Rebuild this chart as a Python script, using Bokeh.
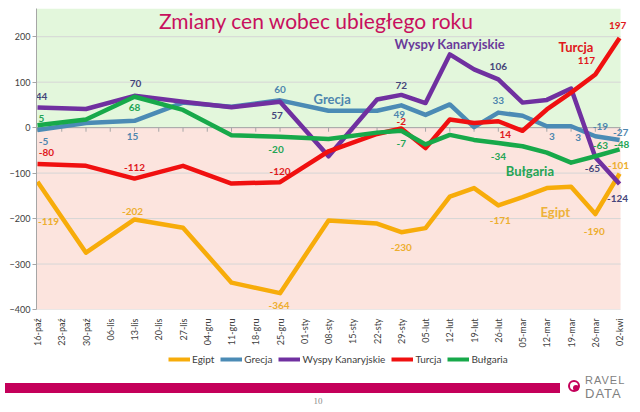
import math
from bokeh.plotting import figure
from bokeh.models import Range1d, FixedTicker, BoxAnnotation, Legend, LegendItem, ColumnDataSource, Div
from bokeh.layouts import column
from bokeh.core.properties import value
from bokeh.embed import file_html
from bokeh.resources import INLINE

# ---------------- data ----------------
categories = ["16-paź", "23-paź", "30-paź", "06-lis", "13-lis", "20-lis", "27-lis", "04-gru",
              "11-gru", "18-gru", "25-gru", "01-sty", "08-sty", "15-sty", "22-sty", "29-sty",
              "05-lut", "12-lut", "19-lut", "26-lut", "05-mar", "12-mar", "19-mar", "26-mar", "02-kwi"]
egipt = [-119, None, -275, None, -202, None, -220, None, -341, None, -364, None, -204, None,
         -211, -230, -221, -152, -133, -171, -153, -133, -130, -190, -101]
grecja = [-5, None, 10, None, 15, None, 55, None, 46, None, 60, None, 37, None,
          37, 49, 28, 51, 1, 33, 26, 3, 3, -19, -27]
wyspy = [44, None, 41, None, 70, None, 57, None, 45, None, 57, None, -63, None,
         62, 72, 54, 161, 128, 106, 55, 61, 86, -65, -124]
turcja = [-80, None, -84, None, -112, None, -84, None, -123, None, -120, None, -52, None,
          -14, -2, -45, 18, 10, 14, -7, 40, 77, 117, 197]
bulgaria = [5, None, 18, None, 68, None, 39, None, -17, None, -20, None, -25, None,
            -11, -7, -37, -16, -27, -34, -41, -55, -77, -63, -48]
series_names = ["Egipt", "Grecja", "Wyspy Kanaryjskie", "Turcja", "Bułgaria"]
y_ticks = [-400, -300, -200, -100, 0, 100, 200]
title_text = "Zmiany cen wobec ubiegłego roku"
page_number = "10"

# ---------------- styles ----------------
FONT = "Lato"
line_colors = ["#F7AC0A", "#4B8BB5", "#7030A0", "#F01010", "#17A94A"]
label_colors = ["#EDAE2E", "#4E86AE", "#45457A", "#E0181B", "#24A455"]
name_colors = ["#EDB23A", "#4E86AE", "#6A3A9A", "#E0181B", "#24A455"]
# data-label placement per series: index -> (dx px, dy px downwards)
label_pos = [
    {0: (11, 40), 4: (-2, -8), 10: (-1, 12), 15: (0, 15), 19: (2, 15), 23: (-1, 17), 24: (-1, -8)},
    {0: (6, 12), 4: (-2, 16), 10: (0, -11), 15: (-2, 9), 19: (0, -12), 21: (5, 10), 22: (7, 11),
     23: (5, -10), 24: (1, -7)},
    {0: (4, -11), 4: (1, -12), 10: (-3, 14), 15: (0, -9), 19: (0, -13), 23: (-3, 11), 24: (-2, 14)},
    {0: (9, -12), 4: (0, -11), 10: (0, -11), 15: (0, -7), 19: (7, 13), 23: (-9, -14), 24: (-2, -13)},
    {0: (4, -7), 4: (0, 11), 10: (-4, 13), 15: (0, 13), 19: (0, 13), 23: (5, -11), 24: (2, -5)},
]
# series name annotations (x index, y value)
name_pos = [(21.35, -186), (12.15, 64), (17.0, 184), (22.2, 177), (20.3, -96)]

n = len(categories)
xs = list(range(n))
x_lo, x_hi = -0.041, n - 1 + 0.45
bg_right = n - 1 + 0.04
series = [egipt, grecja, wyspy, turcja, bulgaria]

p = figure(width=640, height=350, x_range=Range1d(x_lo, x_hi), y_range=Range1d(-400, 262),
           output_backend="svg", toolbar_location=None, title=None,
           min_border_left=36, min_border_right=10, min_border_top=8, min_border_bottom=40,
           background_fill_color="white", border_fill_color="white", outline_line_color=None)

p.add_layout(BoxAnnotation(right=bg_right, bottom=0, fill_color="#E3F7DC", fill_alpha=1,
                           line_color=None, level="underlay"))
p.add_layout(BoxAnnotation(right=bg_right, top=0, fill_color="#FCE4DE", fill_alpha=1,
                           line_color=None, level="underlay"))
p.xgrid.visible = False
p.ygrid.visible = False
# horizontal gridlines
p.segment(x0=[x_lo] * len(y_ticks), x1=[bg_right] * len(y_ticks), y0=y_ticks, y1=y_ticks,
          line_color="#D6D6D6", line_width=1)
# category axis line at zero with tick marks
p.segment(x0=[x_lo], x1=[bg_right], y0=[0], y1=[0], line_color="#A6A6A6", line_width=1)
p.segment(x0=xs, x1=xs, y0=[0] * n, y1=[-9] * n, line_color="#A6A6A6", line_width=1)

# y axis
p.yaxis.ticker = FixedTicker(ticks=y_ticks)
p.yaxis.axis_line_color = "#A6A6A6"
p.yaxis.major_tick_line_color = "#A6A6A6"
p.yaxis.major_tick_out = 4
p.yaxis.major_tick_in = 0
p.yaxis.minor_tick_line_color = None
p.yaxis.major_label_text_font = FONT
p.yaxis.major_label_text_font_size = "9px"
p.yaxis.major_label_text_color = "#404040"
p.yaxis.major_label_standoff = 2

# x axis (labels only)
p.xaxis.ticker = FixedTicker(ticks=xs)
p.xaxis.major_label_overrides = {i: c for i, c in enumerate(categories)}
p.xaxis.major_label_orientation = math.pi / 2
p.xaxis.axis_line_color = None
p.xaxis.major_tick_line_color = None
p.xaxis.minor_tick_line_color = None
p.xaxis.major_label_text_font = FONT
p.xaxis.major_label_text_font_size = "9px"
p.xaxis.major_label_text_color = "#404040"
p.xaxis.major_label_standoff = 3

for k, vals in enumerate(series):
    px = [i for i, v in enumerate(vals) if v is not None]
    py = [v for v in vals if v is not None]
    p.line(px, py, line_color=line_colors[k], line_width=4.5, line_join="round")

# data labels
for k, vals in enumerate(series):
    idx = sorted(label_pos[k].keys())
    src = ColumnDataSource(dict(
        x=idx, y=[vals[i] for i in idx], t=[str(vals[i]) for i in idx],
        dx=[label_pos[k][i][0] for i in idx], dy=[label_pos[k][i][1] for i in idx]))
    p.text(x="x", y="y", text="t", x_offset="dx", y_offset="dy", source=src,
           text_font=value(FONT), text_font_size="10px", text_font_style="bold",
           text_color=label_colors[k], text_align="center", text_baseline="middle")

# series names
for k, name in enumerate(series_names):
    p.text(x=[name_pos[k][0]], y=[name_pos[k][1]], text=[name], text_font=value(FONT),
           text_font_size="13px", text_font_style="bold", text_color=name_colors[k],
           text_align="center", text_baseline="middle")

# title
p.text(x=[11.5], y=[236], text=[title_text], text_font=value(FONT), text_font_size="21px",
       text_color="#C8105E", text_align="center", text_baseline="middle")

# ---------------- legend strip ----------------
lg = figure(width=640, height=20, x_range=Range1d(x_lo, x_hi), y_range=Range1d(1000, 1001),
            output_backend="svg", toolbar_location=None, title=None,
            min_border_left=36, min_border_right=10, min_border_top=0, min_border_bottom=0,
            outline_line_color=None, background_fill_color="white", border_fill_color="white")
lg.axis.visible = False
lg.grid.visible = False
items = []
for k, (name, vals) in enumerate(zip(series_names, series)):
    px = [i for i, v in enumerate(vals) if v is not None]
    py = [v for v in vals if v is not None]
    r = lg.line(px, py, line_color=line_colors[k], line_width=4)
    items.append(LegendItem(label=name, renderers=[r]))
legend = Legend(items=items, orientation="horizontal", location=(132, 5),
                label_text_font=FONT, label_text_font_size="10px", label_text_color="#404040",
                glyph_width=22, glyph_height=12, spacing=6, padding=0, margin=0,
                label_height=12, label_standoff=2, border_line_color=None, background_fill_alpha=0)
lg.add_layout(legend)

# ---------------- footer: bar, page number, logo ----------------
footer_html = f"""
<div style="position:relative;width:640px;height:42px;margin:0;padding:0;">
  <div style="position:absolute;left:5px;top:13px;width:555px;height:10px;background:#C4005A;"></div>
  <div style="position:absolute;left:308px;top:25px;width:20px;text-align:center;
              font-family:'Liberation Serif';font-size:9px;color:#8A8A8A;">{page_number}</div>
  <div style="position:absolute;left:568px;top:10px;width:12px;height:12px;border-radius:50%;
              border:2px solid #C4005A;"></div>
  <div style="position:absolute;left:573px;top:15px;width:6px;height:6px;border-radius:50%;
              background:#C4005A;"></div>
  <div style="position:absolute;left:585px;top:5px;font-family:'Liberation Sans';font-size:11px;
              line-height:11px;color:#7F7F7F;letter-spacing:1px;">RAVEL</div>
  <div style="position:absolute;left:585px;top:17px;font-family:'Liberation Sans';font-size:13px;
              line-height:13px;color:#7F7F7F;letter-spacing:1px;">DATA</div>
</div>
"""
footer = Div(text=footer_html, width=640, height=42, margin=0)

layout = column(p, lg, footer, spacing=0)
open("out.html", "w").write(file_html(layout, INLINE))
